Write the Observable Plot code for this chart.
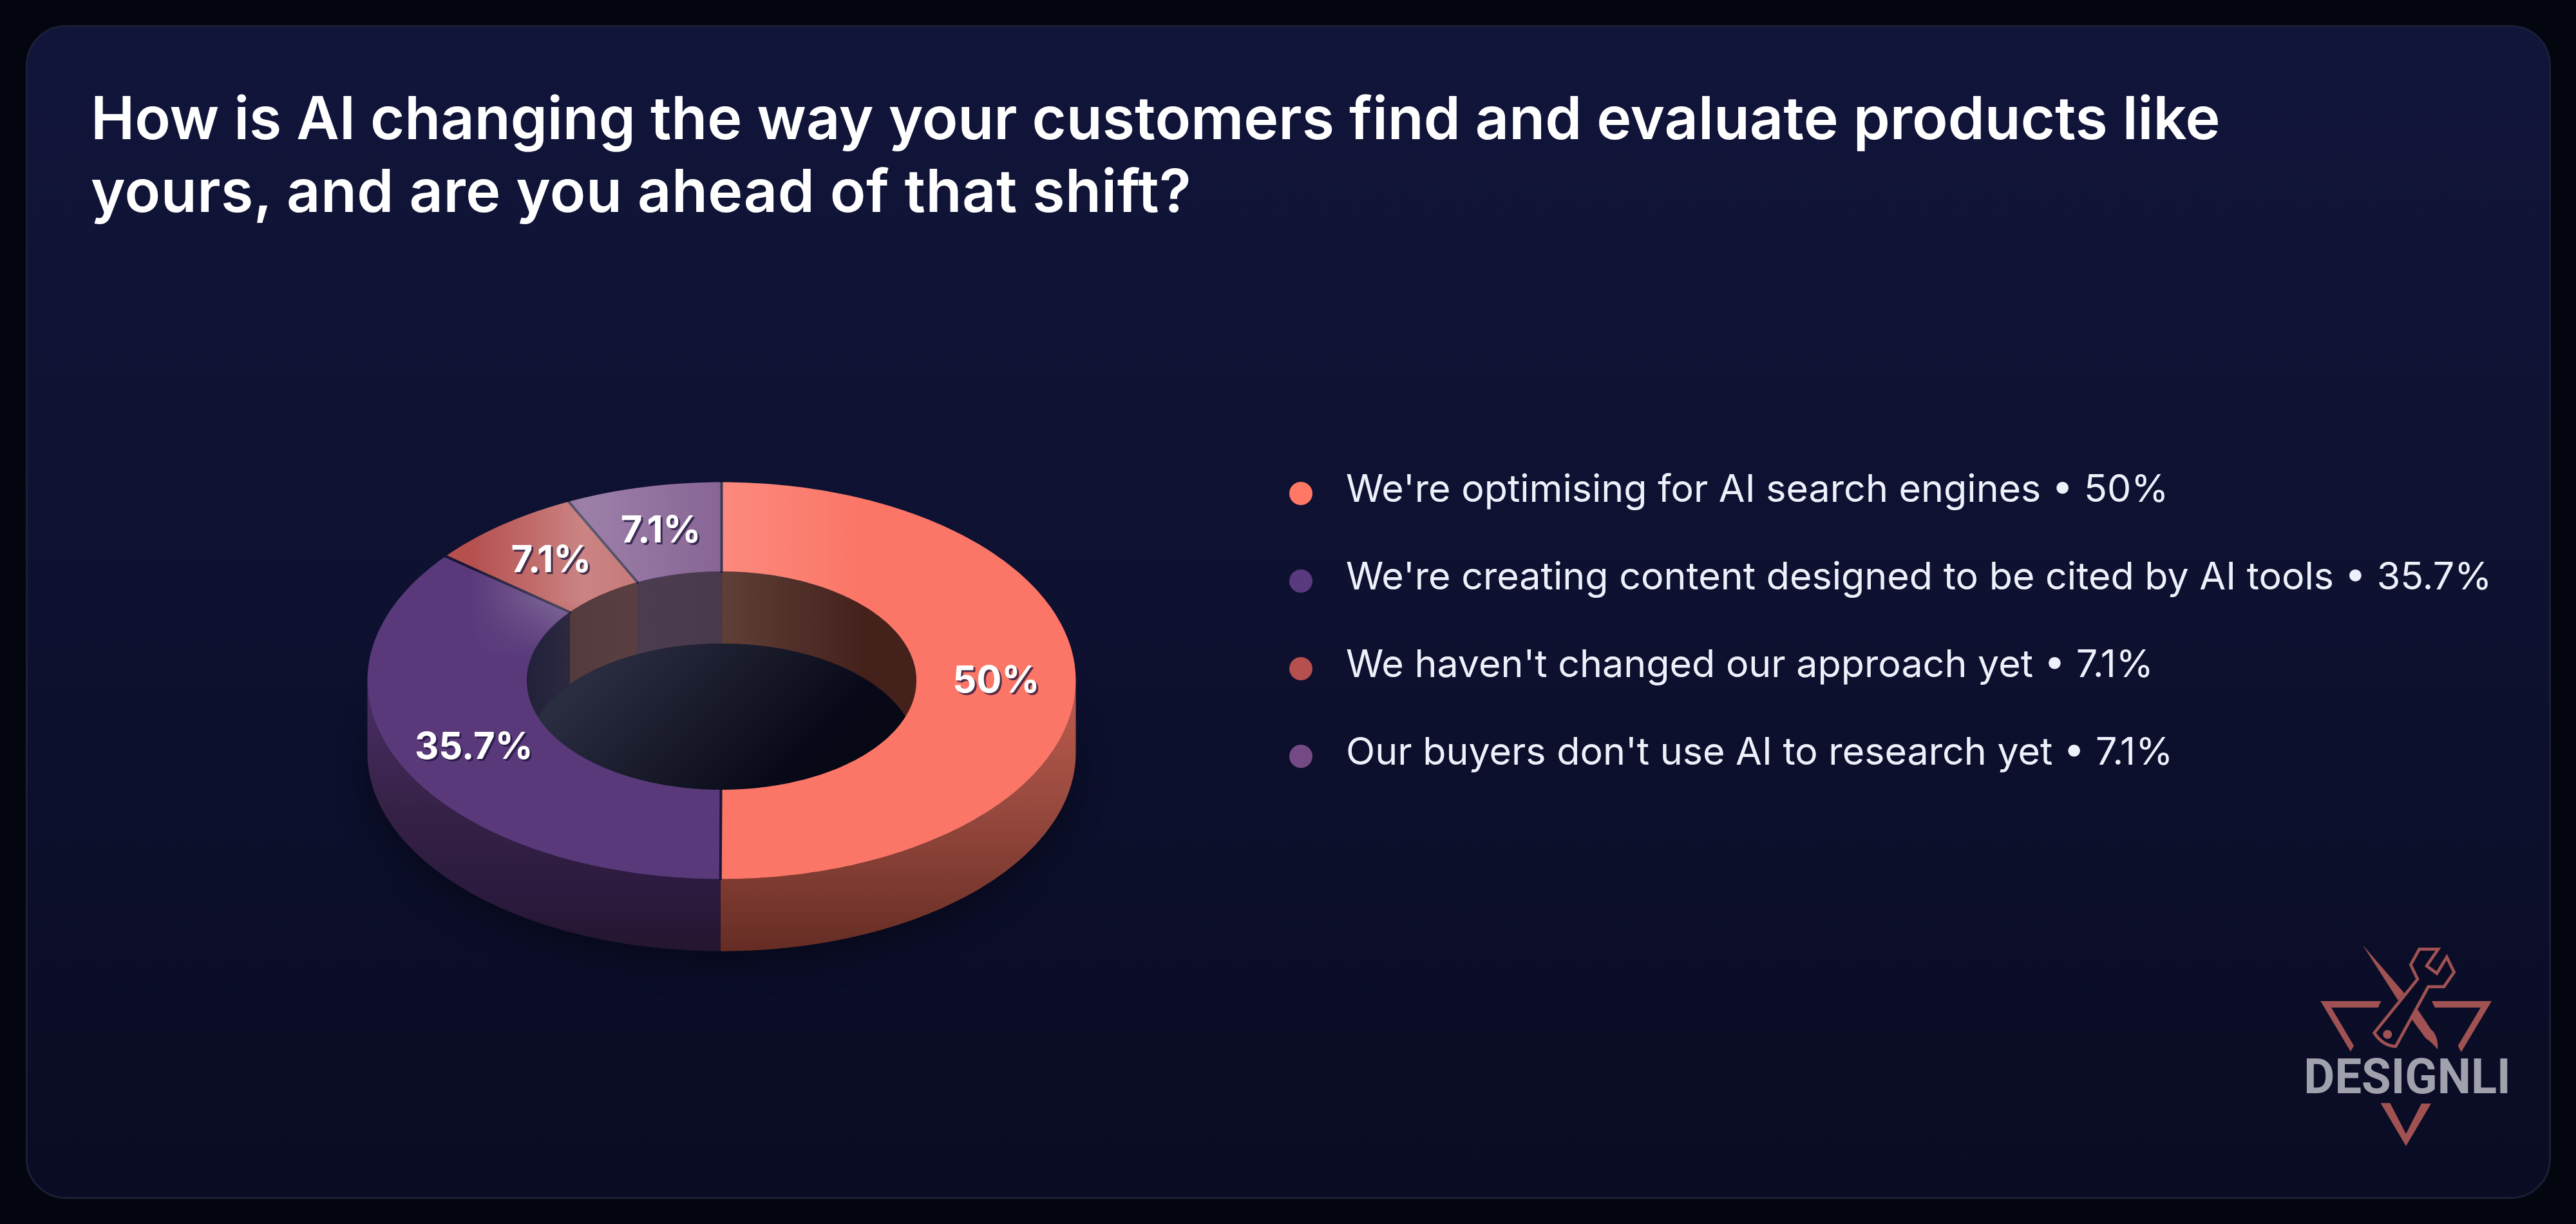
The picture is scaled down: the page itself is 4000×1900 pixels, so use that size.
<!DOCTYPE html>
<html><head><meta charset="utf-8">
<script src="https://cdn.jsdelivr.net/npm/d3@7"></script>
<script src="https://cdn.jsdelivr.net/npm/@observablehq/plot@0.6"></script>
<style>
html,body{margin:0;padding:0;width:4000px;height:1900px;background:#04060f;overflow:hidden;font-family:Inter,sans-serif}
#card{position:absolute;left:40px;top:39px;width:3921px;height:1822px;box-sizing:border-box;border-radius:62px;border:3px solid #1c1e38;background:linear-gradient(180deg,#11153a 0%,#0e1130 45%,#0a0c24 100%)}
#title{position:absolute;left:141px;top:126px;margin:0;font-size:91.4px;line-height:113px;font-weight:620;color:#fff;white-space:nowrap}
#title span{display:block}
#title span+span{letter-spacing:.5px}
#legend{position:absolute;left:2002px;top:698px;list-style:none;margin:0;padding:0}
#legend li{position:relative;height:136px;line-height:136px;padding-left:88px;font-size:59.2px;color:#eef1fb;white-space:nowrap}
#legend span{position:relative;top:-8px}
#legend i{position:absolute;left:0;top:50px;width:36px;height:36px;border-radius:50%}
#chart{position:absolute;left:400px;top:600px}
#chart g[aria-label="text"]{filter:drop-shadow(3px 3px 0 rgba(30,20,60,.75))}
#logo{position:absolute;left:3500px;top:1430px}
</style></head><body>
<div id="card"></div>
<h1 id="title"></h1>
<ul id="legend"></ul>
<div id="chart"></div>
<svg id="logo" width="500" height="470" viewBox="0 0 1500 1410">
  <g fill="#a05252">
    <path d="M310,372 L592,372 L578,402 L360,402 L465,580 L450,607 Z"/>
    <path d="M828,372 L1107,372 L965,610 L950,580 L1056,402 L843,402 Z"/>
    <path d="M590,847 L634,847 L708,990 L780,849 L825,849 L708,1047 Z"/>
    <path d="M506,110 L700,335 L672,370 Z"/>
    <path d="M742,412 L762,410 L825,505 Q858,530 856,597 Q825,560 800,545 L735,457 Z"/>
  </g>
  <path d="M770,130 L858,130 L804,208 L852,243 L898,167 L932,237 L885,305 L812,305 L660,583 Q600,580 560,520 L762,270 L730,203 Z" fill="#0a0c26" stroke="#a05252" stroke-width="14" stroke-linejoin="miter"/>
  <circle cx="622" cy="527" r="21" fill="#a05252"/>
  <text x="232" y="800" font-family="Roboto" font-weight="700" font-size="229" fill="#a0a1ac" textLength="964" lengthAdjust="spacingAndGlyphs">DESIGNLI</text>
</svg>
<script>
const titleLines = ["How is AI changing the way your customers find and evaluate products like", "yours, and are you ahead of that shift?"];
const categories = ["We're optimising for AI search engines", "We're creating content designed to be cited by AI tools", "We haven't changed our approach yet", "Our buyers don't use AI to research yet"];
const values = [50, 35.7, 7.1, 7.1];
const legendColors = ["#ff7866", "#5a3a7e", "#b5504f", "#734a83"];
const topFills = ["#fb7667", "#59397a", "#b5504f", "#734a83"];
const sideFills = ["url(#sideCoral)", "url(#sidePurple)", "#5a2a2a", "#3a2548"];
const wallFills = ["url(#wallCoral)", "url(#wallPurple)", "url(#wallRed)", "url(#wallLight)"];

const tilt = 0.56, hole = 0.55, depth = 0.2036;

d3.select("#title").selectAll("span").data(titleLines).join("span").text(d => d);
const legend = d3.select("#legend");
categories.forEach((c, i) => {
  const li = legend.append("li");
  li.append("i").style("background", legendColors[i]);
  li.append("span").text(`${c} • ${values[i]}%`);
});

const total = d3.sum(values);
const cum = d3.cumsum(values);
const slices = values.map((v, i) => ({i, a0: (cum[i] - v) / total * 360, a1: cum[i] / total * 360}));

function arc(a0, a1, r, dy = 0) {
  const n = Math.max(2, Math.ceil(Math.abs(a1 - a0)));
  return d3.range(n + 1).map(k => {
    const a = (a0 + (a1 - a0) * k / n) * Math.PI / 180;
    return {x: r * Math.sin(a), y: -r * Math.cos(a) * tilt + dy};
  });
}
const closed = pts => [...pts, pts[0]];
const ringPts = (a0, a1) => closed([...arc(a0, a1, 1), ...arc(a1, a0, hole)]);
const outerWall = (a0, a1) => closed([...arc(a0, a1, 1), ...arc(a1, a0, 1, depth)]);
const innerWall = (a0, a1) => closed([...arc(a0, a1, hole), ...arc(a1, a0, hole, depth)]);
const poly = (pts, fill, extra = {}) => Plot.line(pts, {x: "x", y: "y", fill, stroke: "none", ...extra});
const clipRange = (s, lo, hi) => {
  const a = Math.max(s.a0, lo), b = Math.min(s.a1, hi);
  return b > a ? [a, b] : null;
};

const blur = px => (i, s, v, d, c, next) => {
  const g = next(i, s, v, d, c);
  g.style.filter = `blur(${px}px)`;
  return g;
};
const masked = id => (i, s, v, d, c, next) => {
  const g = next(i, s, v, d, c);
  g.setAttribute("mask", `url(#${id})`);
  return g;
};

const defs = () => {
  const g = document.createElementNS("http://www.w3.org/2000/svg", "g");
  g.innerHTML = `<defs>
  <linearGradient id="sideCoral" gradientUnits="userSpaceOnUse" x1="0" x2="0" y1="490" y2="876">
    <stop offset="0" stop-color="#b8594c"/><stop offset=".4" stop-color="#994a3f"/><stop offset=".75" stop-color="#7c392f"/><stop offset="1" stop-color="#652c24"/>
  </linearGradient>
  <linearGradient id="sidePurple" gradientUnits="userSpaceOnUse" x1="0" x2="0" y1="490" y2="876">
    <stop offset="0" stop-color="#482d62"/><stop offset=".45" stop-color="#352145"/><stop offset=".75" stop-color="#2c1b3f"/><stop offset="1" stop-color="#241530"/>
  </linearGradient>
  <linearGradient id="wallCoral" gradientUnits="userSpaceOnUse" x1="720" x2="940" y1="0" y2="0">
    <stop offset="0" stop-color="#5f3f38"/><stop offset="1" stop-color="#45211c"/>
  </linearGradient>
  <linearGradient id="wallRed" gradientUnits="userSpaceOnUse" x1="480" x2="600" y1="0" y2="0">
    <stop offset="0" stop-color="#533a3c"/><stop offset="1" stop-color="#5a4042"/>
  </linearGradient>
  <linearGradient id="wallLight" gradientUnits="userSpaceOnUse" x1="600" x2="720" y1="0" y2="0">
    <stop offset="0" stop-color="#4c3c50"/><stop offset="1" stop-color="#483a4c"/>
  </linearGradient>
  <linearGradient id="wallPurple" gradientUnits="userSpaceOnUse" x1="416" x2="500" y1="0" y2="0">
    <stop offset="0" stop-color="#20213a"/><stop offset="1" stop-color="#302a42"/>
  </linearGradient>
  <linearGradient id="floor" gradientUnits="userSpaceOnUse" x1="560" y1="400" x2="860" y2="700">
    <stop offset="0" stop-color="#2a2d40"/><stop offset=".4" stop-color="#181a2a"/><stop offset=".75" stop-color="#080918"/><stop offset="1" stop-color="#070815"/>
  </linearGradient>
  <linearGradient id="shine" gradientUnits="userSpaceOnUse" x1="327" x2="940" y1="0" y2="0">
    <stop offset="0" stop-color="#fff" stop-opacity="0"/><stop offset=".152" stop-color="#fff" stop-opacity=".15"/>
    <stop offset=".29" stop-color="#fff" stop-opacity=".3"/><stop offset=".64" stop-color="#fff" stop-opacity=".15"/>
    <stop offset="1" stop-color="#fff" stop-opacity="0"/>
  </linearGradient>
  <linearGradient id="fadeG" gradientUnits="userSpaceOnUse" x1="0" x2="0" y1="330" y2="425">
    <stop offset="0" stop-color="#fff"/><stop offset="1" stop-color="#000"/>
  </linearGradient>
  <mask id="fade" maskUnits="userSpaceOnUse" x="0" y="0" width="1500" height="1000"><rect width="1500" height="1000" fill="url(#fadeG)"/></mask>
  </defs>`;
  return g;
};

const marks = [
  defs,
  poly(closed(arc(0, 360, 1, depth + 0.035)), "#02030c", {fillOpacity: 0.5, render: blur(24)}),
  // outer side walls: only the front half can be seen
  ...slices.flatMap(s => {
    const r = clipRange(s, 90, 270);
    return r ? [poly(outerWall(...r), sideFills[s.i])] : [];
  }),
  // inner wall: only the back half can be seen
  ...slices.flatMap(s => [[0, 90], [270, 360]].flatMap(([lo, hi]) => {
    const r = clipRange(s, lo, hi);
    return r ? [poly(innerWall(...r), wallFills[s.i])] : [];
  })),
  // floor of the hole
  poly(closed(arc(0, 360, hole, depth)), "url(#floor)"),
  // top faces
  ...slices.map(s => poly(ringPts(s.a0, s.a1), topFills[s.i])),
  // separators
  ...slices.map(s => Plot.line(arc(s.a0, s.a0, 1).slice(0, 1).concat(arc(s.a0, s.a0, hole).slice(0, 1)), {x: "x", y: "y", stroke: "#0e1030", strokeWidth: 4, strokeOpacity: 0.9})),
  // glossy highlight on the back of the ring
  poly(ringPts(0, 360), "url(#shine)", {render: masked("fade")}),
  // labels
  Plot.text(slices.map(s => {
    const a = (s.a0 + s.a1) / 2 * Math.PI / 180, r = (1 + hole) / 2;
    return {x: r * Math.sin(a), y: -r * Math.cos(a) * tilt, label: `${values[s.i]}%`};
  }), {x: "x", y: "y", text: "label", fill: "#fff", fontSize: 58, fontWeight: 700, fontFamily: "Inter", textAnchor: "middle", lineAnchor: "middle"})
];

const chart = Plot.plot({
  width: 1500, height: 1000, margin: 0,
  x: {axis: null, domain: [-1, 1], range: [170, 1270]},
  y: {axis: null, domain: [-1, 1], range: [-94, 1006]},
  style: {background: "transparent"},
  marks
});
document.getElementById("chart").append(chart);
</script>
</body></html>
